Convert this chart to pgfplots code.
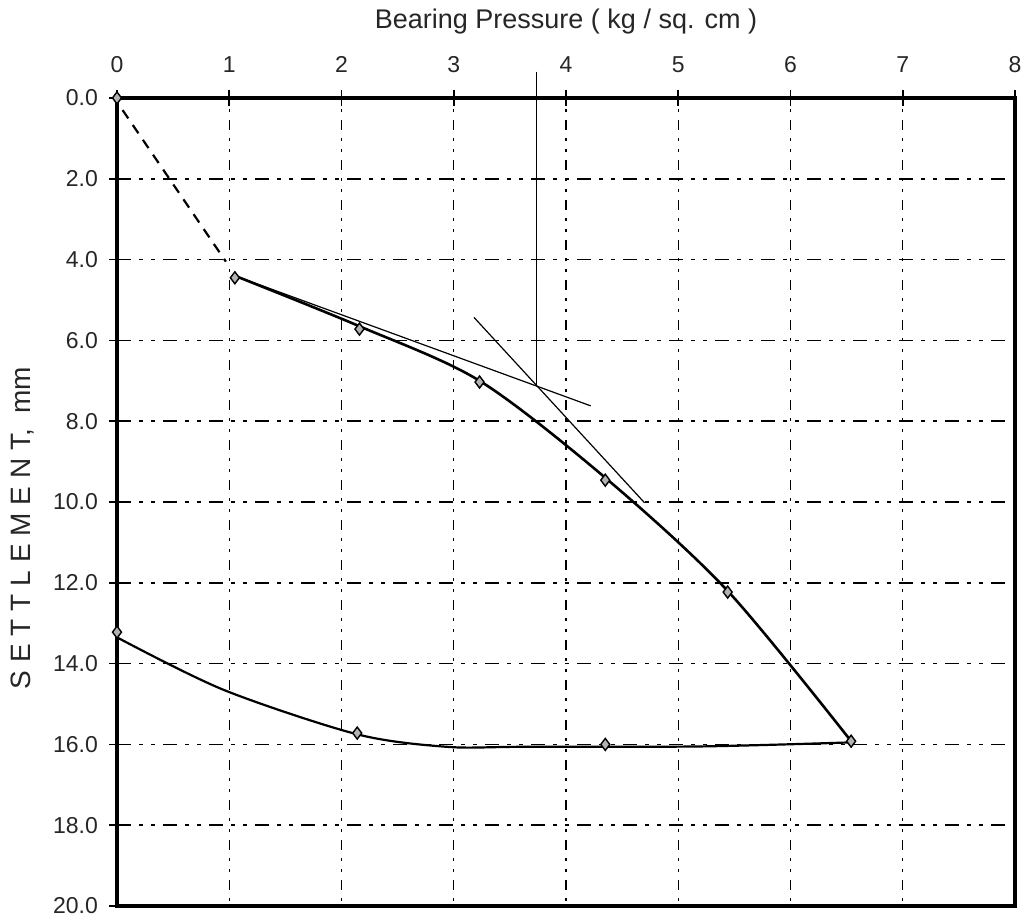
\documentclass[border=0pt]{standalone}
\usepackage{pgfplots}
\pgfplotsset{compat=1.18}
\usepackage{fontspec}
\setmainfont{Liberation Sans}

\begin{document}
\begin{tikzpicture}
\begin{axis}[
    scale only axis,
    width=449pt, height=404pt,
    xmin=0, xmax=8, ymin=0, ymax=20,
    y dir=reverse,
    clip=false,
    axis line style={line width=1.6pt},
    xtick={0,...,8}, ytick={0,2,...,20},
    xtick pos=upper, xticklabel pos=upper,
    ytick pos=left, yticklabel pos=left,
    tick align=center, major tick length=8pt,
    tick style={line width=0.8pt,black},
    grid=major,
    x grid style={black, line width=0.7pt, dash pattern=on 1.5pt off 4pt on 1.5pt off 4pt on 5pt off 4pt},
    y grid style={black, line width=0.8pt, dash pattern=on 7pt off 4pt on 2pt off 4pt on 2pt off 4pt},
    ticklabel style={font=\fontsize{11.5}{13}\selectfont, text=black!85},
    xticklabel style={anchor=south, yshift=5pt},
    yticklabel style={anchor=east, xshift=-2pt},
    /pgf/number format/.cd, fixed, fixed zerofill, precision=1, assume math mode=true,
    /pgfplots/.cd,
    xticklabel={\pgfmathprintnumber[precision=0,fixed zerofill=false]{\tick}},
    title={Bearing Pressure ( kg / sq. cm )},
    title style={at={(axis description cs:0.5,1)}, anchor=base, yshift=28.5pt, font=\fontsize{13.5}{15}\selectfont, text=black!85},
    ylabel={S E T T L E M E N T,\ \ mm},
    ylabel style={at={(axis description cs:0,0.5)}, anchor=center, yshift=47pt, xshift=-13pt, font=\fontsize{14}{16}\selectfont, text=black!85},
]
% dashed initial line
\addplot[black, line width=1.1pt, dash pattern=on 5pt off 4pt] coordinates {(0.05,0.3) (0.97,4.05)};
% loading curve
\addplot[black, line width=1.3pt, smooth, tension=0.5] coordinates {
  (1.05,4.4) (2.16,5.65) (3.23,7.0) (4.35,9.4) (5.44,12.2) (6.54,15.92)};
% unloading curve
\addplot[black, line width=1.1pt, smooth, tension=0.5] coordinates {
  (0,13.35) (0.95,14.65) (2.14,15.75) (2.94,16.06) (3.6,16.06) (5.2,16.05) (6.54,15.95)};
% tangents
\addplot[black, line width=0.6pt] coordinates {(1.05,4.4) (4.22,7.62)};
\addplot[black, line width=0.6pt] coordinates {(3.18,5.43) (4.7,10.02)};
\addplot[black, line width=0.6pt] coordinates {(3.74,-0.65) (3.74,7.12)};
% data points
\addplot[only marks, mark=diamond*, mark size=3pt, mark options={fill=gray!60, draw=black, line width=0.7pt}] coordinates {
  (0,0) (1.05,4.45) (2.16,5.72) (3.23,7.03) (4.35,9.46) (5.44,12.23) (6.54,15.92)
  (4.35,16.0) (2.14,15.72) (0,13.22)};
\coordinate (tl) at (axis cs:0,0);
\coordinate (br) at (axis cs:8,20);
\end{axis}
\pgfresetboundingbox
\path[use as bounding box] ([xshift=-58.5pt,yshift=49pt]tl) rectangle ([xshift=3pt,yshift=-6.5pt]br);
\end{tikzpicture}
\end{document}
